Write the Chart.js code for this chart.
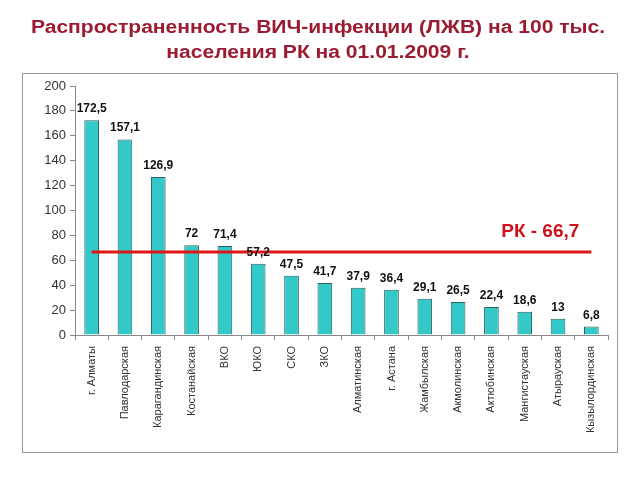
<!DOCTYPE html>
<html>
<head>
<meta charset="utf-8">
<script src="https://cdn.jsdelivr.net/npm/chart.js@4.4.1/dist/chart.umd.min.js"></script>
<style>
html,body{margin:0;padding:0;background:#fff;}
#wrap{width:640px;height:480px;}
</style>
</head>
<body>
<div id="wrap"><canvas id="c" width="640" height="480"></canvas></div>
<script>
const titleLines = ['Распространенность ВИЧ-инфекции (ЛЖВ) на 100 тыс.', 'населения РК на 01.01.2009 г.'];
const categories = ['г. Алматы','Павлодарская','Карагандинская','Костанайская','ВКО','ЮКО','СКО','ЗКО','Алматинская','г. Астана','Жамбылская','Акмолинская','Актюбинская','Мангистауская','Атырауская','Кызылординская'];
const values = [172.5,157.1,126.9,72,71.4,57.2,47.5,41.7,37.9,36.4,29.1,26.5,22.4,18.6,13,6.8];
const nationalValue = 66.7;
const nationalLabel = 'РК - 66,7';
const yTicks = [0,20,40,60,80,100,120,140,160,180,200];

const nationalLine = categories.map(() => nationalValue);
const fmt = v => String(v).replace('.', ',');
const FONT = '"Liberation Sans", Arial, sans-serif';

const extras = {
  id: 'extras',
  beforeDraw(chart) {
    const ctx = chart.ctx;
    ctx.save();
    ctx.strokeStyle = '#9a9a9a';
    ctx.lineWidth = 1;
    ctx.strokeRect(22.5, 73.5, 595, 379);
    // title
    ctx.fillStyle = '#9b1b30';
    ctx.font = 'bold 18px ' + FONT;
    ctx.textAlign = 'center';
    ctx.textBaseline = 'alphabetic';
    const baselines = [33, 57.5];
    titleLines.forEach((t, i) => {
      ctx.save();
      ctx.translate(318, baselines[i]);
      ctx.scale(1.17, 1);
      ctx.fillText(t, 0, 0);
      ctx.restore();
    });
    ctx.restore();
  },
  afterDatasetsDraw(chart) {
    const ctx = chart.ctx;
    const meta = chart.getDatasetMeta(1);
    ctx.save();
    ctx.font = 'bold 12px ' + FONT;
    ctx.fillStyle = '#111';
    ctx.textAlign = 'center';
    ctx.textBaseline = 'alphabetic';
    meta.data.forEach((bar, i) => {
      ctx.fillText(fmt(values[i]), bar.x, bar.y - 8);
    });
    const xs = chart.scales.x, ys = chart.scales.y;
    ctx.font = 'bold 19px ' + FONT;
    ctx.fillStyle = '#d0121b';
    ctx.textAlign = 'right';
    ctx.textBaseline = 'middle';
    ctx.fillText(nationalLabel, xs.getPixelForValue(categories.length - 1) - 12, ys.getPixelForValue(nationalValue) - 20);
    ctx.restore();
  }
};

new Chart(document.getElementById('c'), {
  type: 'bar',
  data: {
    labels: categories,
    datasets: [
      {
        type: 'line',
        data: nationalLine,
        borderColor: '#e01515',
        borderWidth: 3,
        pointRadius: 0,
        fill: false,
        order: 0
      },
      {
        type: 'bar',
        data: values,
        backgroundColor: '#33c9c9',
        borderColor: '#2a5e5e',
        borderWidth: 1,
        barPercentage: 0.44,
        categoryPercentage: 1,
        order: 1
      }
    ]
  },
  options: {
    responsive: false,
    animation: false,
    devicePixelRatio: 1,
    layout: { padding: { left: 22, right: 32, top: 86, bottom: 28 } },
    plugins: {
      legend: { display: false },
      tooltip: { enabled: false },
      title: { display: false }
    },
    scales: {
      x: {
        offset: true,
        grid: { display: true, drawOnChartArea: false, offset: true, tickLength: 5, color: '#888' },
        border: { color: '#888' },
        ticks: {
          minRotation: 90, maxRotation: 90, autoSkip: false,
          color: '#333',
          font: { family: FONT, size: 11 },
          padding: 6
        },
        afterFit(s) { s.height = 117; }
      },
      y: {
        min: 0, max: 200,
        afterBuildTicks(s) { s.ticks = yTicks.map(v => ({ value: v })); },
        grid: { display: true, drawOnChartArea: false, tickLength: 5, color: '#888' },
        border: { color: '#888' },
        ticks: {
          color: '#333',
          font: { family: FONT, size: 13 },
          padding: 4
        },
        afterFit(s) { s.width = 53; }
      }
    }
  },
  plugins: [extras]
});
</script>
</body>
</html>
